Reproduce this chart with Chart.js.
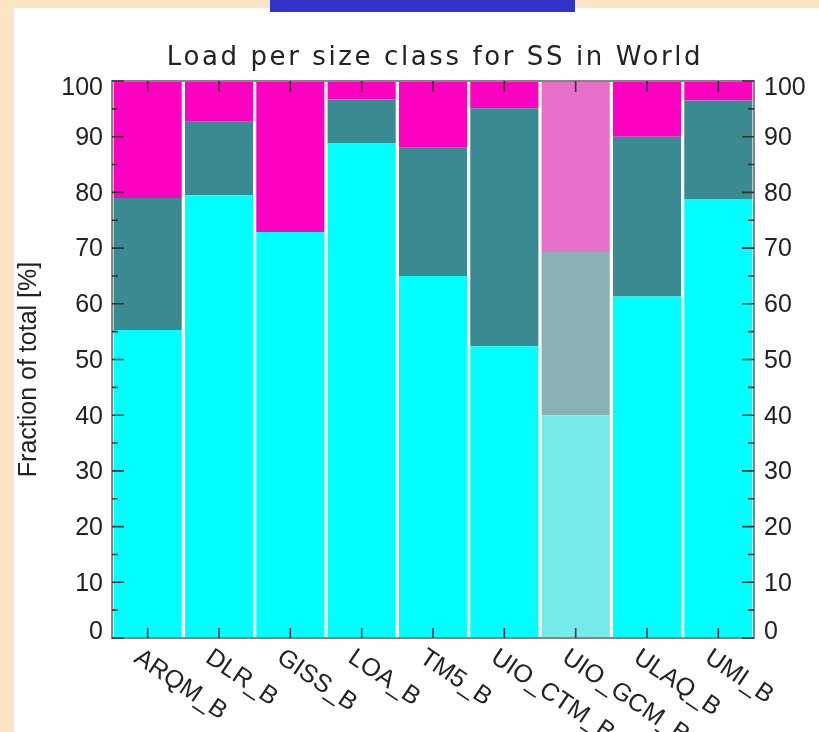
<!DOCTYPE html>
<html>
<head>
<meta charset="utf-8">
<script src="https://cdn.jsdelivr.net/npm/chart.js@4"></script>
<style>
  html, body { margin: 0; padding: 0; width: 819px; height: 732px; overflow: hidden; background: #FCE5C4; }
  #panel { position: absolute; left: 14px; top: 8px; width: 805px; height: 724px; background: #ffffff; }
  #tab { position: absolute; left: 270px; top: 0; width: 305px; height: 12px; background: #3532C9; }
  #wrap { position: absolute; left: 0; top: 0; width: 819px; height: 732px; }
</style>
</head>
<body>
<div id="panel"></div>
<div id="tab"></div>
<div id="wrap"><canvas id="c" width="819" height="732"></canvas></div>
<script>
// Models (one bar each)
const models = ['ARQM_B', 'DLR_B', 'GISS_B', 'LOA_B', 'TM5_B', 'UIO_CTM_B', 'UIO_GCM_B', 'ULAQ_B', 'UMI_B'];

// Share of the sea-salt load in each size class, % of total (bottom to top)
const smallClass  = [55.3, 79.5, 72.9, 88.8, 65.0, 52.4, 40.0, 61.3, 78.8];
const middleClass = [23.7, 13.2,  0.0,  7.9, 23.0, 42.7, 29.3, 28.7, 17.7];
const largeClass  = [21.0,  7.3, 27.1,  3.3, 12.0,  4.9, 30.7, 10.0,  3.5];

// Axis tick labels
const yTicks = [0, 10, 20, 30, 40, 50, 60, 70, 80, 90, 100];

const titleText = 'Load per size class for SS in World';
const yTitleText = 'Fraction of total [%]';

// UIO_GCM_B is drawn in faded tones
const faded = 'UIO_GCM_B';
const pick = (normal, soft) => models.map(m => (m === faded ? soft : normal));

const decorations = {
  id: 'decorations',
  afterDatasetsDraw(chart) {
    const { ctx, chartArea: a, scales } = chart;
    const xs = scales.x, ys = scales.y;
    ctx.save();

    // Frame
    ctx.strokeStyle = '#858585';
    ctx.lineWidth = 2;
    ctx.strokeRect(a.left, a.top, a.right - a.left, a.bottom - a.top);

    // Inward tick marks on both y axes (major + minor)
    ctx.strokeStyle = '#333';
    ctx.lineWidth = 1.6;
    const drawY = (v, len) => {
      const y = ys.getPixelForValue(v);
      ctx.beginPath();
      ctx.moveTo(a.left, y); ctx.lineTo(a.left + len, y);
      ctx.moveTo(a.right, y); ctx.lineTo(a.right - len, y);
      ctx.stroke();
    };
    yTicks.forEach(v => drawY(v, 12));
    for (let i = 0; i < yTicks.length - 1; i++) drawY((yTicks[i] + yTicks[i + 1]) / 2, 6);

    // Y tick labels on both sides, end labels kept inside the frame height
    ctx.fillStyle = '#222';
    ctx.font = '25px "Liberation Sans"';
    ctx.textBaseline = 'middle';
    yTicks.forEach(v => {
      const y = Math.min(Math.max(ys.getPixelForValue(v) + 1.5, a.top + 7), a.bottom - 6);
      ctx.textAlign = 'right';
      ctx.fillText(String(v), a.left - 9, y);
      ctx.textAlign = 'left';
      ctx.fillText(String(v), a.right + 10, y);
    });

    // Inward tick marks on x axis (bottom and top)
    models.forEach((m, i) => {
      const x = xs.getPixelForTick(i);
      ctx.beginPath();
      ctx.moveTo(x, a.bottom); ctx.lineTo(x, a.bottom - 10);
      ctx.moveTo(x, a.top); ctx.lineTo(x, a.top + 11);
      ctx.stroke();
    });

    // Slanted category labels
    ctx.font = '25px "Liberation Sans"';
    ctx.textAlign = 'left';
    ctx.textBaseline = 'top';
    models.forEach((m, i) => {
      const x = xs.getPixelForTick(i);
      ctx.save();
      ctx.translate(x - 4, a.bottom + 7);
      ctx.rotate(34 * Math.PI / 180);
      ctx.fillText(m, 0, 0);
      ctx.restore();
    });

    // Chart title
    ctx.font = '26px "DejaVu Sans"';
    ctx.letterSpacing = '2.6px';
    ctx.textAlign = 'center';
    ctx.textBaseline = 'alphabetic';
    ctx.fillText(titleText, (a.left + a.right) / 2 + 2, 65);
    ctx.letterSpacing = '0px';

    // Y axis title
    ctx.font = '25px "Liberation Sans"';
    ctx.save();
    ctx.translate(36, (a.top + a.bottom) / 2 + 10);
    ctx.rotate(-Math.PI / 2);
    ctx.textAlign = 'center';
    ctx.textBaseline = 'alphabetic';
    ctx.fillText(yTitleText, 0, 0);
    ctx.restore();

    ctx.restore();
  }
};

new Chart(document.getElementById('c'), {
  type: 'bar',
  data: {
    labels: models,
    datasets: [
      { label: 'small', data: smallClass, backgroundColor: pick('#00FFFF', '#74EBEA') },
      { label: 'middle', data: middleClass, backgroundColor: pick('#3A8A91', '#88B0B5') },
      { label: 'large', data: largeClass, backgroundColor: pick('#FF00C3', '#E86FC9') }
    ]
  },
  options: {
    responsive: false,
    devicePixelRatio: 1,
    animation: false,
    layout: { padding: { top: 81, left: 0, right: 0, bottom: 0 } },
    datasets: { bar: { barPercentage: 0.955, categoryPercentage: 1, borderWidth: 0 } },
    plugins: { legend: { display: false }, title: { display: false }, tooltip: { enabled: false } },
    scales: {
      x: {
        stacked: true,
        offset: true,
        grid: { display: false, drawTicks: false },
        border: { display: false },
        ticks: { display: false },
        afterFit(s) { s.height = 94; }
      },
      y: {
        stacked: true,
        position: 'left',
        min: 0, max: 100,
        grid: { display: false, drawTicks: false },
        border: { display: false },
        afterBuildTicks(s) { s.ticks = yTicks.map(v => ({ value: v })); },
        ticks: { display: false },
        afterFit(s) { s.width = 112; }
      },
      y2: {
        position: 'right',
        min: 0, max: 100,
        grid: { display: false, drawTicks: false },
        border: { display: false },
        afterBuildTicks(s) { s.ticks = yTicks.map(v => ({ value: v })); },
        ticks: { display: false },
        afterFit(s) { s.width = 65; }
      }
    }
  },
  plugins: [decorations]
});
</script>
</body>
</html>
